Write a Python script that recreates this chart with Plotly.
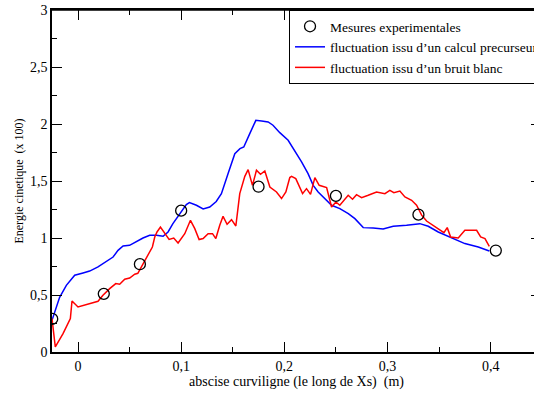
import plotly.graph_objects as go

# mesures experimentales
x_mes = [-0.025, 0.025, 0.06, 0.1, 0.175, 0.25, 0.33, 0.405]
y_mes = [0.29, 0.51, 0.77, 1.24, 1.45, 1.37, 1.205, 0.89]

# fluctuation issu d'un calcul precurseur
x_prec = [-0.0252, -0.0178, -0.0113, -0.0032, 0.0049, 0.0113, 0.0194, 0.0275, 0.034, 0.0388,
          0.0437, 0.050, 0.0566, 0.063, 0.0695, 0.076, 0.0825, 0.0873, 0.092, 0.0986,
          0.105, 0.108, 0.1148, 0.1213, 0.1277, 0.134, 0.139, 0.1455, 0.152, 0.157,
          0.1607, 0.1665, 0.1724, 0.178, 0.1843, 0.189, 0.1956, 0.2037, 0.210, 0.2167,
          0.223, 0.228, 0.2328, 0.2393, 0.2458, 0.2538, 0.262, 0.2684, 0.2765, 0.2861,
          0.2958, 0.3055, 0.3185, 0.3314, 0.3395, 0.3492, 0.3605, 0.375, 0.388, 0.3987]
y_prec = [0.278, 0.48, 0.585, 0.673, 0.693, 0.71, 0.746, 0.795, 0.833, 0.892,
          0.93, 0.936, 0.971, 1.0, 1.024, 1.024, 1.015, 1.053, 1.126, 1.214,
          1.293, 1.31, 1.287, 1.255, 1.272, 1.32, 1.389, 1.565, 1.74, 1.784,
          1.798, 1.916, 2.032, 2.026, 2.018, 1.989, 1.924, 1.857, 1.77, 1.667,
          1.565, 1.462, 1.404, 1.346, 1.287, 1.258, 1.214, 1.17, 1.091, 1.088,
          1.079, 1.103, 1.111, 1.126, 1.103, 1.053, 1.009, 0.951, 0.921, 0.886]

# fluctuation issu d'un bruit blanc
x_bruit = [-0.0252, -0.022, -0.0145, -0.0074, -0.0058, 0.0, 0.0194, 0.0242, 0.0307, 0.0366,
           0.0404, 0.0453, 0.0501, 0.055, 0.058, 0.063, 0.0679, 0.0721, 0.0744, 0.0766,
           0.0799, 0.0841, 0.0883, 0.0928, 0.097, 0.1035, 0.109, 0.1132, 0.1174, 0.1213,
           0.1261, 0.1304, 0.1336, 0.1374, 0.1406, 0.1445, 0.1488, 0.153, 0.1568, 0.1617,
           0.1649, 0.1691, 0.173, 0.1769, 0.1811, 0.186, 0.1924, 0.1973, 0.2015, 0.2053,
           0.207, 0.2111, 0.2177, 0.2215, 0.2254, 0.2296, 0.2338, 0.241, 0.2458, 0.25,
           0.2538, 0.2619, 0.2661, 0.27, 0.2749, 0.2813, 0.2894, 0.2975, 0.3023, 0.3062,
           0.312, 0.3169, 0.3234, 0.3282, 0.3331, 0.3379, 0.3443, 0.3508, 0.3547, 0.3579,
           0.3612, 0.3686, 0.375, 0.3864, 0.3903, 0.3945, 0.3987]
y_bruit = [0.293, 0.044, 0.161, 0.293, 0.447, 0.395, 0.445, 0.497, 0.556, 0.6,
           0.594, 0.638, 0.649, 0.682, 0.69, 0.775, 0.863, 0.921, 1.009, 1.053,
           1.096, 1.038, 0.988, 1.0, 0.956, 1.038, 1.155, 1.082, 0.986, 0.995,
           1.038, 1.038, 0.995, 1.111, 1.19, 1.12, 1.161, 1.105, 1.389, 1.541,
           1.6, 1.462, 1.594, 1.559, 1.588, 1.447, 1.404, 1.346, 1.404, 1.53,
           1.541, 1.521, 1.389, 1.433, 1.383, 1.53, 1.462, 1.442, 1.272, 1.316,
           1.287, 1.375, 1.34, 1.38, 1.354, 1.375, 1.404, 1.389, 1.418, 1.398,
           1.412, 1.36, 1.331, 1.287, 1.2, 1.149, 1.111, 1.068, 1.047, 1.091,
           1.009, 1.0, 1.068, 1.068, 1.009, 0.995, 0.927]

serif = "Liberation Serif"

prec = go.Scatter(x=x_prec, y=y_prec, mode="lines",
                  line=dict(color="#0000ff", width=1.5),
                  name="fluctuation issu d\u2019un calcul precurseur", legendrank=2)

bruit = go.Scatter(x=x_bruit, y=y_bruit, mode="lines",
                   line=dict(color="#ff0000", width=1.5),
                   name="fluctuation issu d\u2019un bruit blanc", legendrank=3)

# measurements sit on the twin axes (top / right frame), linked to the main ones
mes = go.Scatter(x=x_mes, y=y_mes, mode="markers", xaxis="x2", yaxis="y2",
                 marker=dict(symbol="circle-open", size=11, color="black",
                             line=dict(width=1.3, color="black")),
                 name="Mesures experimentales", legendrank=1)

tick_style = dict(showgrid=False, zeroline=False,
                  showline=True, linecolor="black", linewidth=1.5,
                  ticks="inside", ticklen=10, tickwidth=1, tickcolor="black")

# figure a bit wider than the window: the right frame falls just outside, like the original
layout = go.Layout(
    width=542, height=393,
    margin=dict(l=52, r=1, t=10, b=41, autoexpand=False),
    paper_bgcolor="white", plot_bgcolor="white",
    separators=", ",
    font=dict(family=serif, color="black", size=14),
    showlegend=True,
    legend=dict(x=0.4847, y=1, xanchor="left", yanchor="top",
                bgcolor="white", bordercolor="black", borderwidth=1,
                font=dict(family=serif, size=13.5), tracegroupgap=0),
    xaxis=dict(range=[-0.0252, 0.4488], dtick=0.1, tick0=0, **tick_style,
               minor=dict(dtick=0.05, ticks="inside", ticklen=5, tickcolor="black", showgrid=False),
               tickfont=dict(size=14),
               title=dict(text="abscise curviligne (le long de Xs)  (m)",
                          font=dict(size=14), standoff=3)),
    yaxis=dict(range=[0, 3], dtick=0.5, tick0=0, **tick_style,
               minor=dict(dtick=0.25, ticks="inside", ticklen=5, tickcolor="black", showgrid=False),
               tickfont=dict(size=14),
               title=dict(text="Energie cinetique  (x 100)",
                          font=dict(size=12), standoff=4)),
    xaxis2=dict(overlaying="x", side="top", matches="x", anchor="y2",
                dtick=0.1, tick0=0, **tick_style, showticklabels=False,
                minor=dict(dtick=0.05, ticks="inside", ticklen=5, tickcolor="black", showgrid=False)),
    yaxis2=dict(overlaying="y", side="right", matches="y", anchor="x2",
                dtick=0.5, tick0=0, **tick_style, showticklabels=False,
                minor=dict(dtick=0.25, ticks="inside", ticklen=5, tickcolor="black", showgrid=False)),
    # top edge of the frame
    shapes=[dict(type="line", xref="paper", yref="paper", x0=0, x1=1, y0=1, y1=1,
                 line=dict(color="black", width=1.5), layer="above")],
)

fig = go.Figure([prec, bruit, mes], layout=layout)

fig.write_html("out.html", config={"displayModeBar": False},
               post_script="document.body.style.margin='0';document.body.style.overflow='hidden';")
